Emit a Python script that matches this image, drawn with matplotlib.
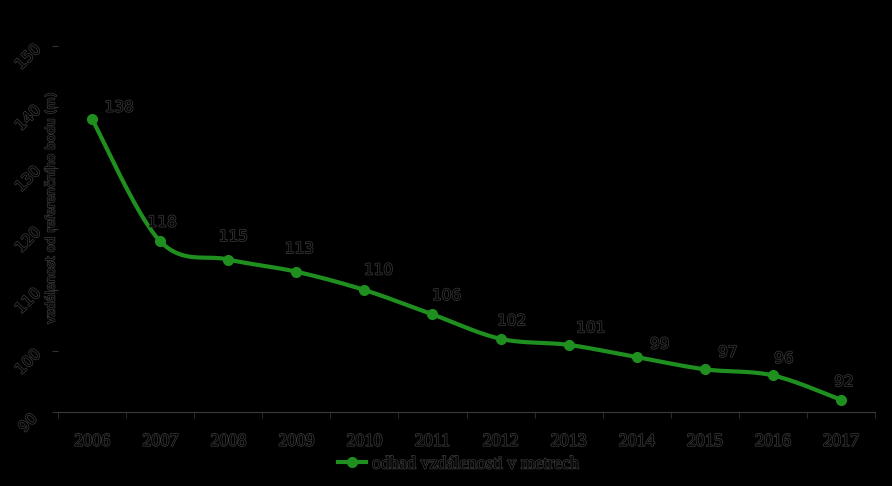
import numpy as np
import matplotlib
matplotlib.use("Agg")
import matplotlib.pyplot as plt
import matplotlib.patheffects as pe
from matplotlib.lines import Line2D

years = ["2006", "2007", "2008", "2009", "2010", "2011", "2012", "2013", "2014", "2015", "2016", "2017"]
values = [138, 118, 115, 113, 110, 106, 102, 101, 99, 97, 96, 92]
y_ticks = [90, 100, 110, 120, 130, 140, 150]
series_name = "odhad vzdálenosti v metrech"
y_label = "vzdálenost od referenčního bodu (m)"

# label offsets (pixels, label centre relative to its point) - styling only
label_dx = [27, 2, 5, 3, 14, 14, 11, 22, 23, 23, 11, 3]
label_dy = [12, 19, 23, 23, 20, 19, 18, 17, 13, 17, 17, 18]

plt.rcParams['font.family'] = ['Liberation Serif', 'DejaVu Serif']

fig = plt.figure(figsize=(8.92, 4.86), dpi=100, facecolor='black')
ax = fig.add_axes([58/892, 1-412/486, (875-58)/892, (412-46)/486], facecolor='black')

x = np.arange(len(years))
y = np.array(values, dtype=float)

def smooth(xp, yp, n=30, t=0.5):
    xs, ys = [], []
    for i in range(len(xp) - 1):
        p0 = np.array([xp[max(i-1, 0)], yp[max(i-1, 0)]])
        p1 = np.array([xp[i], yp[i]])
        p2 = np.array([xp[i+1], yp[i+1]])
        p3 = np.array([xp[min(i+2, len(xp)-1)], yp[min(i+2, len(xp)-1)]])
        c1 = p1 + (p2 - p0) * t / 3
        c2 = p2 - (p3 - p1) * t / 3
        s = np.linspace(0, 1, n)[:, None]
        b = (1-s)**3*p1 + 3*(1-s)**2*s*c1 + 3*(1-s)*s**2*c2 + s**3*p2
        xs.extend(b[:, 0]); ys.extend(b[:, 1])
    return xs, ys

green = '#1f8f1f'
sx, sy = smooth(x, y, t=0.5)
ax.plot(sx, sy, color=green, lw=3, solid_capstyle='round')
ax.plot(x, y, 'o', color=green, ms=7)

stroke = [pe.withStroke(linewidth=1.1, foreground='#383838')]
px2pt = 72 / 100
for xi, yi, dx, dy in zip(x, y, label_dx, label_dy):
    ax.annotate(f"{int(yi)}", (xi, yi), xytext=(dx*px2pt, dy*px2pt), textcoords='offset points',
                fontsize=11, color='black', family=['DejaVu Sans'],
                path_effects=stroke, ha='center', va='center')

ax.set_xlim(-0.5, len(years) - 0.5)
ax.set_ylim(90, 150)
ax.set_yticks(y_ticks)
ax.set_yticklabels([])
for v in y_ticks:
    ax.annotate(str(v), (0, v), xycoords=('axes fraction', 'data'),
                xytext=(-30*px2pt, -11*px2pt), textcoords='offset points',
                rotation=45, ha='center', va='center', fontsize=11, color='black',
                family=['DejaVu Sans'], path_effects=stroke, annotation_clip=False)
ax.set_xticks(x)
ax.set_xticklabels(years, fontsize=13, color='black')
for lab in ax.get_xticklabels():
    lab.set_path_effects(stroke)
ax.set_xticks(np.arange(-0.5, len(years)), minor=True)
ax.tick_params(axis='x', which='major', length=0, pad=15)
ax.tick_params(axis='x', which='minor', length=4, color='#333333')
ax.tick_params(axis='y', length=4, color='#333333')

for s in ['top', 'right', 'left']:
    ax.spines[s].set_visible(False)
ax.spines['bottom'].set_color('#3a3a3a')

fig.text(51/892, 1-208/486, y_label, rotation=90, ha='center', va='center',
         fontsize=9, color='black', family=['DejaVu Sans'], path_effects=stroke)

handle = Line2D([], [], color=green, lw=3, marker='o', ms=7)
leg = fig.legend([handle], [series_name], loc='center', bbox_to_anchor=(458/892, 1-464/486),
                 frameon=False, fontsize=13, handlelength=1.6, handletextpad=0.3)
for t in leg.get_texts():
    t.set_color('black')
    t.set_path_effects(stroke)

fig.savefig('out.png', dpi=100, facecolor='black')
